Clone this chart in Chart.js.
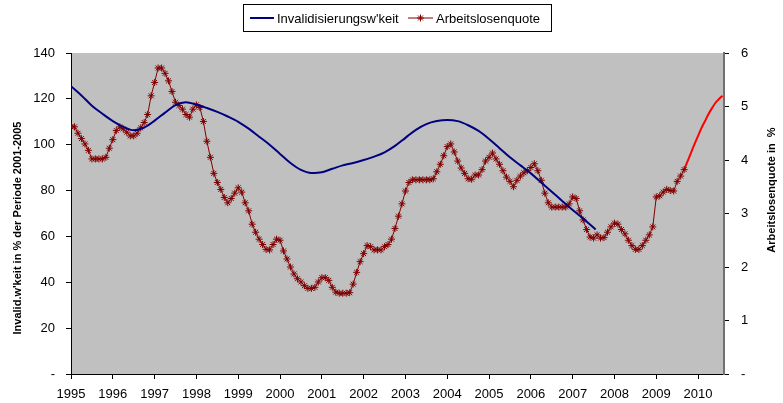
<!DOCTYPE html>
<html>
<head>
<meta charset="utf-8">
<script src="https://cdn.jsdelivr.net/npm/chart.js@4.4.0/dist/chart.umd.min.js"></script>
<style>
  html, body { margin: 0; padding: 0; background: #fff; }
</style>
</head>
<body>
<canvas id="chart" width="783" height="403"></canvas>
<script>
// Arbeitslosenquote, monthly from Jan 1995 to Sep 2009 (right axis, %)
const alqStart = 1995;
const arbeitslosenquote = [
  4.62, 4.62, 4.5, 4.4, 4.3, 4.18, 4.02, 4.02, 4.02, 4.02, 4.05, 4.22,   // 1995
  4.38, 4.55, 4.62, 4.58, 4.52, 4.45, 4.45, 4.5, 4.6, 4.7, 4.85, 5.2,    // 1996
  5.45, 5.72, 5.72, 5.62, 5.48, 5.28, 5.08, 5.02, 4.95, 4.85, 4.8, 4.95, // 1997
  5.03, 4.98, 4.72, 4.35, 4.05, 3.75, 3.58, 3.45, 3.3, 3.2, 3.28, 3.38,  // 1998
  3.48, 3.4, 3.2, 3.05, 2.8, 2.65, 2.52, 2.42, 2.33, 2.32, 2.42, 2.52,   // 1999
  2.5, 2.3, 2.15, 2.0, 1.87, 1.78, 1.72, 1.65, 1.6, 1.6, 1.62, 1.72,     // 2000
  1.8, 1.8, 1.75, 1.62, 1.53, 1.51, 1.51, 1.51, 1.52, 1.68, 1.9, 2.1,    // 2001
  2.25, 2.4, 2.38, 2.32, 2.32, 2.32, 2.38, 2.42, 2.52, 2.72, 2.95, 3.18, // 2002
  3.42, 3.58, 3.63, 3.63, 3.63, 3.63, 3.63, 3.63, 3.65, 3.78, 3.92, 4.08,// 2003
  4.25, 4.3, 4.15, 3.98, 3.85, 3.75, 3.65, 3.64, 3.72, 3.72, 3.82, 3.98, // 2004
  4.05, 4.13, 4.02, 3.92, 3.8, 3.68, 3.6, 3.5, 3.62, 3.7, 3.76, 3.8,     // 2005
  3.86, 3.93, 3.8, 3.62, 3.38, 3.2, 3.12, 3.12, 3.12, 3.12, 3.12, 3.18,  // 2006
  3.31, 3.28, 3.05, 2.88, 2.7, 2.56, 2.54, 2.6, 2.54, 2.55, 2.65, 2.75,  // 2007
  2.82, 2.8, 2.7, 2.62, 2.5, 2.4, 2.33, 2.33, 2.4, 2.5, 2.6, 2.75,       // 2008
  3.31, 3.33, 3.4, 3.45, 3.43, 3.42, 3.6, 3.7, 3.82                      // 2009
];

// continuation of the red line without markers
const prognoseZeit = [2009.667, 2009.75, 2009.833, 2009.917, 2010.0, 2010.083, 2010.167, 2010.25, 2010.333, 2010.417, 2010.5, 2010.583];
const prognoseWerte = [3.82, 3.98, 4.14, 4.3, 4.45, 4.6, 4.73, 4.86, 4.97, 5.07, 5.14, 5.2];

// Invalidisierungswahrscheinlichkeit, quarterly (left axis)
const invalidZeit = [
  1995.0, 1995.25, 1995.5, 1995.75, 1996.0, 1996.25, 1996.5, 1996.75,
  1997.0, 1997.25, 1997.5, 1997.75, 1998.0, 1998.25, 1998.5, 1998.75,
  1999.0, 1999.25, 1999.5, 1999.75, 2000.0, 2000.25, 2000.5, 2000.75,
  2001.0, 2001.25, 2001.5, 2001.75, 2002.0, 2002.25, 2002.5, 2002.75,
  2003.0, 2003.25, 2003.5, 2003.75, 2004.0, 2004.25, 2004.5, 2004.75,
  2005.0, 2005.25, 2005.5, 2005.75, 2006.0, 2006.25, 2006.5, 2006.75,
  2007.0, 2007.25, 2007.55
];
const invalidWerte = [
  125.5, 121.5, 117, 113.5, 110.3, 107.8, 106.3, 107.5,
  110.5, 114, 117.3, 118.5, 117.5, 116, 114.3, 112.3,
  110, 107, 103.5, 100, 96, 92, 89, 87.7,
  88, 89.5, 91, 92, 93.3, 94.8, 96.7, 99.5,
  103, 106.5, 109, 110.3, 110.8, 110.3, 108.5, 106,
  102.5, 98.5, 94.5, 91, 87.5, 83.5, 79.5, 75.5,
  71.5, 67.8, 63
];

const xTicks = [1995, 1996, 1997, 1998, 1999, 2000, 2001, 2002, 2003, 2004, 2005, 2006, 2007, 2008, 2009, 2010];
const legendLabels = ["Invalidisierungsw'keit", "Arbeitslosenquote"];
const titelLinks = "Invalid.w'keit in % der Periode 2001-2005";
const titelRechts = "Arbeitslosenquote in  %";

const FONT = "'Liberation Sans', Arial, sans-serif";
Chart.defaults.font.family = FONT;
Chart.defaults.font.size = 13;
Chart.defaults.color = "#000";

const alqPoints = arbeitslosenquote.map((v, i) => ({ x: alqStart + i / 12, y: v }));
const prognosePoints = prognoseZeit.map((t, i) => ({ x: t, y: prognoseWerte[i] }));
const invalidPoints = invalidZeit.map((t, i) => ({ x: t, y: invalidWerte[i] }));

const plotBackground = {
  id: "plotBackground",
  beforeDraw(chart) {
    const { ctx, chartArea: a } = chart;
    ctx.save();
    ctx.fillStyle = "#C0C0C0";
    ctx.fillRect(a.left, a.top, a.right - a.left, a.bottom - a.top);
    ctx.restore();
  }
};

const extras = {
  id: "extras",
  afterDraw(chart) {
    const ctx = chart.ctx;
    ctx.save();
    // axis titles, both reading bottom to top
    ctx.font = "bold 11px " + FONT;
    ctx.fillStyle = "#000";
    ctx.textAlign = "center";
    ctx.textBaseline = "middle";
    ctx.translate(18, 228);
    ctx.rotate(-Math.PI / 2);
    ctx.fillText(titelLinks, 0, 0);
    ctx.setTransform(1, 0, 0, 1, 0, 0);
    ctx.translate(772, 190);
    ctx.rotate(-Math.PI / 2);
    ctx.fillText(titelRechts, 0, 0);
    ctx.setTransform(1, 0, 0, 1, 0, 0);

    // legend box
    ctx.strokeStyle = "#000";
    ctx.lineWidth = 1;
    ctx.strokeRect(243.5, 4.5, 308, 27);
    const ly = 18;
    ctx.strokeStyle = "#000080";
    ctx.lineWidth = 2;
    ctx.beginPath(); ctx.moveTo(250, ly); ctx.lineTo(274, ly); ctx.stroke();
    ctx.strokeStyle = "#800000";
    ctx.lineWidth = 1;
    ctx.beginPath(); ctx.moveTo(408, ly); ctx.lineTo(433, ly); ctx.stroke();
    Chart.helpers.drawPoint(ctx, { pointStyle: "star", radius: 3.5, rotation: 0, borderWidth: 1 }, 420.5, ly);
    ctx.font = "13px " + FONT;
    ctx.fillStyle = "#000";
    ctx.textAlign = "left";
    ctx.fillText(legendLabels[0], 277, ly + 1);
    ctx.fillText(legendLabels[1], 436, ly + 1);
    ctx.restore();
  }
};

new Chart(document.getElementById("chart"), {
  type: "line",
  data: {
    datasets: [
      {
        label: legendLabels[0],
        data: invalidPoints,
        yAxisID: "y",
        borderColor: "#000080",
        borderWidth: 2,
        pointRadius: 0,
        cubicInterpolationMode: "monotone"
      },
      {
        label: legendLabels[1],
        data: alqPoints,
        yAxisID: "y1",
        borderColor: "#800000",
        backgroundColor: "#800000",
        borderWidth: 1,
        pointStyle: "star",
        pointRadius: 3.5,
        pointBorderColor: "#800000",
        pointBorderWidth: 1,
        tension: 0
      },
      {
        label: "Prognose",
        data: prognosePoints,
        yAxisID: "y1",
        borderColor: "#FF0000",
        borderWidth: 2,
        pointRadius: 0,
        tension: 0.3
      }
    ]
  },
  options: {
    responsive: false,
    animation: false,
    layout: { padding: { top: 53, left: 0, right: 0, bottom: 0 } },
    plugins: {
      legend: { display: false },
      tooltip: { enabled: false }
    },
    scales: {
      x: {
        type: "linear",
        min: 1995,
        max: 2010.62,
        afterBuildTicks: (scale) => { scale.ticks = xTicks.map(v => ({ value: v })); },
        afterFit: (scale) => { scale.height = 29; },
        ticks: { callback: (v) => String(v), padding: 8, maxRotation: 0, autoSkip: false },
        grid: { drawOnChartArea: false, color: "#000", tickLength: 5 },
        border: { color: "#000", width: 1 }
      },
      y: {
        position: "left",
        min: 0,
        max: 140,
        afterFit: (scale) => { scale.width = 71; },
        ticks: { stepSize: 20, padding: 11, callback: (v) => (v === 0 ? "-" : String(v)) },
        grid: { drawOnChartArea: false, color: "#000", tickLength: 5 },
        border: { color: "#000", width: 1 }
      },
      y1: {
        position: "right",
        min: 0,
        max: 6,
        afterFit: (scale) => { scale.width = 59; },
        ticks: { stepSize: 1, padding: 12, callback: (v) => (v === 0 ? "-" : String(v)) },
        grid: { drawOnChartArea: false, color: "#000", tickLength: 5 },
        border: { color: "#707070", width: 2 }
      }
    }
  },
  plugins: [plotBackground, extras]
});
</script>
</body>
</html>
